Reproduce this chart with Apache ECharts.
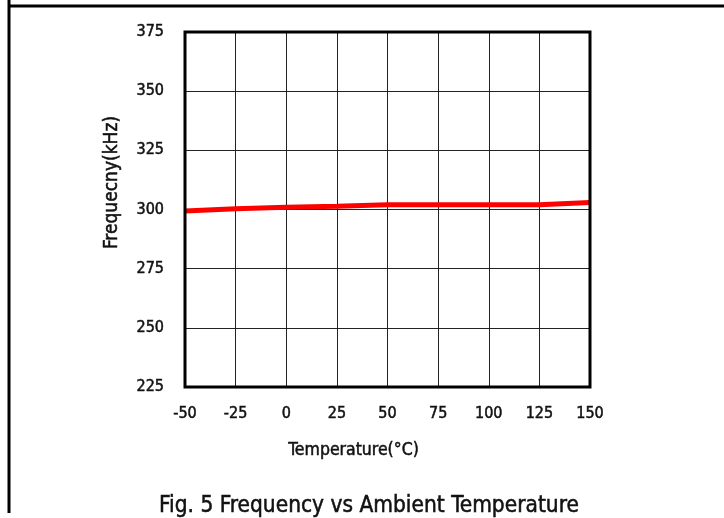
<!DOCTYPE html>
<html>
<head>
<meta charset="utf-8">
<script src="https://cdn.jsdelivr.net/npm/echarts@6/dist/echarts.min.js"></script>
<style>
  html, body { margin: 0; padding: 0; background: #fff; }
  #chart { width: 724px; height: 518px; }
</style>
</head>
<body>
<div id="chart"></div>
<script>
// temperature (°C) and measured frequency (kHz)
var temps = [-50, -25, 0, 25, 50, 75, 100, 125, 150];
var freqs = [299.4, 300.3, 301.0, 301.4, 302.0, 302.0, 302.0, 302.0, 303.0];
var yTicks = [225, 250, 275, 300, 325, 350, 375];

var fontName = '"DejaVu Sans Condensed", "Liberation Sans Narrow", sans-serif';
// thin outline in the text colour, makes the condensed font look a bit heavier
var heavy = { color: '#111', fontFamily: fontName, textBorderColor: '#111', textBorderWidth: 0.5 };

var myChart = echarts.init(document.getElementById('chart'));

var points = [];
for (var i = 0; i < temps.length; i++) {
  points.push([temps[i], freqs[i]]);
}

var option = {
  animation: false,
  backgroundColor: '#fff',
  title: {
    text: 'Fig. 5 Frequency vs Ambient Temperature',
    left: 364,
    top: 490,
    textAlign: 'center',
    textStyle: Object.assign({ fontSize: 22.5, fontWeight: 'normal' }, heavy)
  },
  grid: { left: 185, right: 134, top: 32, bottom: 131 },
  xAxis: {
    type: 'value',
    min: -50,
    max: 150,
    interval: 25,
    name: 'Temperature(°C)',
    nameLocation: 'middle',
    nameGap: 54,
    nameTextStyle: Object.assign({ fontSize: 17.5, padding: [0, 68, 0, 0] }, heavy),
    axisLine: { show: false },
    axisTick: { show: false },
    axisLabel: Object.assign({ fontSize: 16, margin: 19 }, heavy),
    splitLine: { show: true, lineStyle: { color: '#222', width: 1 } }
  },
  yAxis: {
    type: 'value',
    min: yTicks[0],
    max: yTicks[yTicks.length - 1],
    interval: 25,
    name: 'Frequecny(kHz)',
    nameLocation: 'middle',
    nameGap: 63,
    nameTextStyle: Object.assign({ fontSize: 19, padding: [0, 0, 0, 54] }, heavy),
    axisLine: { show: false },
    axisTick: { show: false },
    axisLabel: Object.assign({ fontSize: 16, margin: 21 }, heavy),
    splitLine: { show: true, lineStyle: { color: '#222', width: 1 } }
  },
  graphic: [
    // page frame: top and left rules
    { type: 'line', shape: { x1: 8, y1: 6, x2: 724, y2: 6 }, style: { stroke: '#000', lineWidth: 3 } },
    { type: 'line', shape: { x1: 9, y1: 0, x2: 9, y2: 513 }, style: { stroke: '#000', lineWidth: 3 } },
    // plot frame
    { type: 'rect', shape: { x: 185, y: 32, width: 405, height: 355 }, style: { fill: 'none', stroke: '#000', lineWidth: 3 }, z: 10 }
  ],
  series: [
    {
      name: 'Frequency',
      type: 'line',
      data: points,
      symbol: 'none',
      lineStyle: { color: '#ff0000', width: 5 },
      z: 5
    }
  ]
};

myChart.setOption(option);
</script>
</body>
</html>
